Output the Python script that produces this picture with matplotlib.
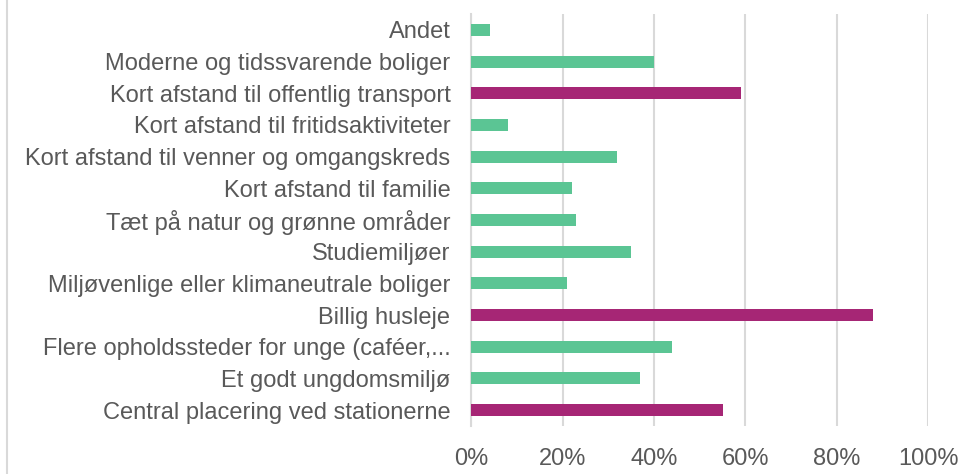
import matplotlib.pyplot as plt
from matplotlib.lines import Line2D
from matplotlib.ticker import PercentFormatter

plt.rcParams['font.family'] = ['Liberation Sans', 'DejaVu Sans']

# Categories, top to bottom as shown
labels = [
    "Andet",
    "Moderne og tidssvarende boliger",
    "Kort afstand til offentlig transport",
    "Kort afstand til fritidsaktiviteter",
    "Kort afstand til venner og omgangskreds",
    "Kort afstand til familie",
    "Tæt på natur og grønne områder",
    "Studiemiljøer",
    "Miljøvenlige eller klimaneutrale boliger",
    "Billig husleje",
    "Flere opholdssteder for unge (caféer,...",
    "Et godt ungdomsmiljø",
    "Central placering ved stationerne",
]
values = [0.04, 0.40, 0.59, 0.08, 0.32, 0.22, 0.23, 0.35, 0.21, 0.88, 0.44, 0.37, 0.55]
highlight = [False, False, True, False, False, False, False, False, False, True, False, False, True]

green = "#5BC594"
purple = "#A62675"
txt = "#595959"
grid = "#D9D9D9"

fig = plt.figure(figsize=(9.65, 4.74), dpi=100)
ax = fig.add_axes([0.4884, 0.1013, 0.9617 - 0.4884, 0.9705 - 0.1013])

colors = [purple if h else green for h in highlight]
ypos = list(range(len(labels)))[::-1]
ax.barh(ypos, values, height=0.38, color=colors, zorder=3)

ax.set_xlim(0, 1.0)
ax.set_ylim(-0.5, len(labels) - 0.5)
ax.set_yticks(ypos)
ax.set_yticklabels(labels)
ax.set_xticks([0, 0.2, 0.4, 0.6, 0.8, 1.0])
ax.xaxis.set_major_formatter(PercentFormatter(1.0, decimals=0))

ax.grid(axis='x', color=grid, linewidth=1.5, zorder=0)
for s in ['top', 'right', 'bottom']:
    ax.spines[s].set_visible(False)
ax.spines['left'].set_color(grid)
ax.spines['left'].set_linewidth(1.5)

ax.tick_params(axis='both', length=0, labelsize=17, labelcolor=txt)
ax.tick_params(axis='x', pad=16)
ax.tick_params(axis='y', pad=15)

# chart frame edge on the left
fig.add_artist(Line2D([7 / 965, 7 / 965], [0, 1], color=grid, linewidth=1.5))

plt.savefig('out.png')
